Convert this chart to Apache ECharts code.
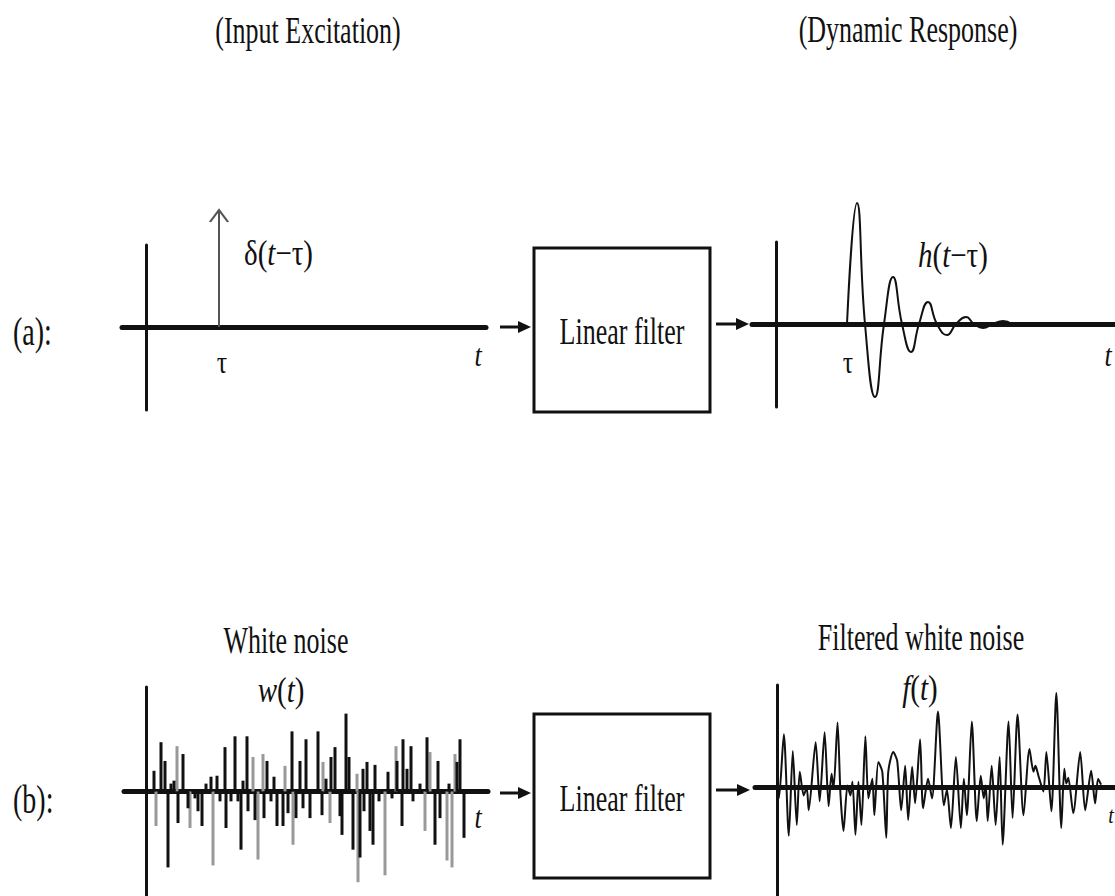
<!DOCTYPE html>
<html><head><meta charset="utf-8">
<script src="https://cdn.jsdelivr.net/npm/echarts@6/dist/echarts.min.js"></script>
<style>html,body{margin:0;padding:0;background:#fff}#c{width:1115px;height:896px}</style>
</head><body><div id="c"></div>
<script>
// ---------- data ----------
// (a) impulse excitation
const impulseTime = 73;
const impulseAmp = 117;
// (a) impulse response h(t - tau): [time, value]
const hResponse = [[71,0],[81,121],[89,0],[99,-73],[108,0],[117,47],[126,0],[135,-28],[143,0],[152,22],[161,0],[171,-11],[180,0],[190,7],[198,0],[207,-4],[217,0],[227,3],[236,0]];
// (b) white noise spikes w(t): [time, value]
const wBlack = [[8,21],[15,50],[19,31],[22,-77],[25,8],[28,11],[32,-32],[37,38],[42,-17],[49,-7],[52,-20],[56,-35],[60,8],[65,15],[71,16],[74,-10],[79,45],[80,-37],[85,-10],[89,56],[92,-10],[95,-59],[97,11],[101,56],[102,-20],[109,-29],[118,-27],[121,31],[125,-10],[128,15],[131,-35],[137,-35],[142,-22],[146,61],[150,-27],[154,31],[157,-17],[160,53],[164,-27],[172,61],[176,-24],[180,13],[185,35],[189,45],[194,-25],[196,-44],[200,79],[203,35],[207,-59],[214,-67],[217,23],[218,-20],[221,30],[224,-40],[227,-54],[229,27],[233,-10],[242,20],[246,-7],[251,31],[256,-35],[257,53],[261,23],[265,46],[267,-10],[274,8],[281,55],[289,-54],[292,31],[294,-27],[303,8],[311,30],[314,53],[318,-47]];
const wGray = [[10,-35],[31,46],[44,-37],[67,-75],[107,35],[112,-69],[117,38],[139,26],[147,-54],[177,30],[184,-32],[211,18],[212,-92],[239,-85],[250,46],[279,-40],[284,40],[301,-70],[306,-77],[309,38]];
// (b) filtered white noise f(t): [time, value]
const fNoise = [[0,0],[2,-11],[7,54],[12,-49],[16,37],[20,-38],[23,16],[27,-8],[30,0],[32,-23],[39,46],[43,-14],[48,56],[52,-19],[55,14],[57,-1],[61,66],[64,-8],[67,-44],[71,2],[74,-8],[76,6],[79,-48],[82,6],[85,-38],[89,52],[92,-11],[96,9],[98,-28],[102,26],[106,16],[110,-51],[112,16],[117,36],[121,27],[125,-23],[129,22],[132,-33],[136,21],[139,-16],[144,49],[147,-21],[152,9],[156,-11],[162,77],[168,-18],[171,-2],[175,-41],[180,31],[185,-41],[188,9],[191,-28],[196,67],[201,-34],[205,12],[208,-11],[210,2],[212,-34],[216,22],[220,-38],[224,31],[227,-58],[233,67],[237,-31],[242,74],[248,-28],[254,39],[258,16],[260,22],[263,12],[268,-4],[271,36],[276,-24],[281,96],[286,-41],[289,19],[291,4],[293,10],[298,-26],[305,36],[310,-23],[316,17],[320,-16],[323,9],[326,3]];

// ---------- chart ----------
const SERIF = '"Liberation Serif", "Times New Roman", serif';
const INK = '#111';
const chart = echarts.init(document.getElementById('c'), null, {renderer: 'svg'});

const grids = [
  {left:122, top:245, width:364, height:165},
  {left:752, top:242, width:363, height:165},
  {left:124, top:687, width:364, height:212},
  {left:755, top:685, width:362, height:214}
];
const xr = [[-24,340],[-24,339],[-22,342],[-22,340]];
const yr = [[-83,82],[-83,82],[-106,106],[-110,104]];

function xA(i){return {type:'value',gridIndex:i,min:xr[i][0],max:xr[i][1],
  axisLine:{show:true,onZero:true,lineStyle:{color:INK,width:5}},
  axisTick:{show:false},axisLabel:{show:false},splitLine:{show:false}};}
function yA(i){return {type:'value',gridIndex:i,min:yr[i][0],max:yr[i][1],
  axisLine:{show:true,onZero:true,lineStyle:{color:INK,width:3}},
  axisTick:{show:false},axisLabel:{show:false},splitLine:{show:false}};}

function txt(x,y,text,size,opt){
  opt = opt||{};
  const el = {type:'text', x:x, y:y, scaleY: opt.sy||1.45, silent:true,
    style:{text:text, font:(opt.italic?'italic ':'')+size+'px '+SERIF, fill:INK,
      align:opt.align||'center', verticalAlign:'middle',
      textAlign:opt.align||'center', textVerticalAlign:'middle'}};
  if(opt.rich){
    el.style.rich = {
      i:{fontFamily:SERIF,fontStyle:'italic',fontSize:size,fill:INK},
      n:{fontFamily:SERIF,fontSize:size,fill:INK}
    };
  }
  return el;
}
function arrow(x1,x2,y){
  return {type:'group', silent:true, children:[
    {type:'line', shape:{x1:x1,y1:y,x2:x2-8,y2:y}, style:{stroke:INK,lineWidth:3}},
    {type:'polygon', shape:{points:[[x2-13,y-6],[x2,y],[x2-13,y+6]]}, style:{fill:INK}}
  ]};
}
function box(x,y,w,h){
  return {type:'rect', silent:true, shape:{x:x,y:y,width:w,height:h}, style:{fill:'#fff',stroke:INK,lineWidth:3}};
}

const option = {
  animation:false,
  backgroundColor:'#fff',
  grid: grids,
  xAxis: [0,1,2,3].map(xA),
  yAxis: [0,1,2,3].map(yA),
  series: [
    {type:'line', xAxisIndex:0, yAxisIndex:0, clip:false, symbol:'none',
      lineStyle:{color:'#555',width:2},
      data:[[impulseTime,0],{value:[impulseTime,impulseAmp],symbol:'path://M0,12 L9,0 L18,12',symbolSize:[18,12],symbolOffset:[0,6],
        itemStyle:{color:'transparent',borderColor:'#555',borderWidth:2}}]},
    {type:'line', xAxisIndex:1, yAxisIndex:1, clip:false, symbol:'none', smooth:0.5,
      lineStyle:{color:INK,width:2}, data:hResponse},
    {type:'bar', xAxisIndex:2, yAxisIndex:2, barWidth:3, barGap:'-100%',
      itemStyle:{color:'#999'}, data:wGray},
    {type:'bar', xAxisIndex:2, yAxisIndex:2, barWidth:3, barGap:'-100%',
      itemStyle:{color:INK}, data:wBlack},
    {type:'line', xAxisIndex:3, yAxisIndex:3, symbol:'none', smooth:0.25,
      lineStyle:{color:'#111',width:2}, data:fNoise}
  ],
  graphic: [
    txt(308,30,'(Input Excitation)',26),
    txt(908,29,'(Dynamic Response)',26),
    txt(13,332,'(a):',28,{align:'left'}),
    txt(13,800,'(b):',28,{align:'left'}),
    // panel (a) left
    txt(244,253,'{n|δ(}{i|t}{n|−τ)}',29,{align:'left',rich:true,sy:1.2}),
    txt(222,362,'τ',26,{sy:1.2}),
    txt(478,355,'t',26,{italic:true,sy:1.2}),
    arrow(500,531,327),
    box(534,248,176,164),
    txt(622,331,'Linear filter',26),
    arrow(716,749,324),
    // panel (a) right
    txt(918,255,'{i|h}{n|(}{i|t}{n|−τ)}',29,{align:'left',rich:true,sy:1.2}),
    txt(848,362,'τ',26,{sy:1.2}),
    txt(1108,355,'t',26,{italic:true,sy:1.2}),
    // panel (b)
    txt(286,640,'White noise',26),
    txt(281,690,'{i|w}{n|(}{i|t}{n|)}',29,{rich:true,sy:1.2}),
    txt(478,817,'t',26,{italic:true,sy:1.2}),
    arrow(500,531,793),
    box(534,714,176,164),
    txt(622,798,'Linear filter',26),
    arrow(716,750,790),
    txt(921,637,'Filtered white noise',26),
    txt(920,688,'{i|f}{n|(}{i|t}{n|)}',29,{rich:true,sy:1.2}),
    txt(1111,815,'t',20,{italic:true,sy:1.2})
  ]
};
chart.setOption(option);
</script></body></html>
